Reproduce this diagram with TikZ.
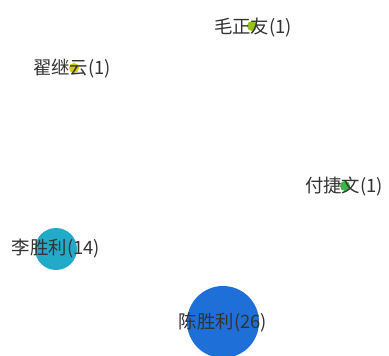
\documentclass[tikz,border=0pt]{standalone}
\usepackage{fontspec}
\newfontfamily\cjk{Noto Sans CJK SC}
\definecolor{txt}{HTML}{333333}
\definecolor{cA}{HTML}{94C11F}
\definecolor{cB}{HTML}{D2CC12}
\definecolor{cC}{HTML}{3DB34A}
\definecolor{cD}{HTML}{23AAC8}
\definecolor{cE}{HTML}{1E6FD8}
\begin{document}
\begin{tikzpicture}[x=0.75pt,y=-0.75pt,
  dot/.style={circle,inner sep=0pt,draw=none},
  lbl/.style={font=\cjk\fontsize{13.8pt}{15pt}\selectfont,text=txt,inner sep=0pt}]
\useasboundingbox[fill=white] (0,0) rectangle (389,356);
\node[dot,fill=cA,minimum size=10*0.75pt] (a) at (252,26) {};
\node[dot,fill=cB,minimum size=10*0.75pt] (b) at (74,68) {};
\node[dot,fill=cC,minimum size=10*0.75pt] (c) at (345,186) {};
\node[dot,fill=cD,minimum size=42*0.75pt] (d) at (56,249) {};
\node[dot,fill=cE,minimum size=72*0.75pt] (e) at (223,322) {};
\node[lbl] (la) at (253,28) {毛正友(1)};
\node[lbl] (lb) at (72,69) {翟继云(1)};
\node[lbl] (lc) at (344,187) {付捷文(1)};
\node[lbl] (ld) at (56,249) {李胜利(14)};
\node[lbl] (le) at (223,323) {陈胜利(26)};
\end{tikzpicture}
\end{document}
